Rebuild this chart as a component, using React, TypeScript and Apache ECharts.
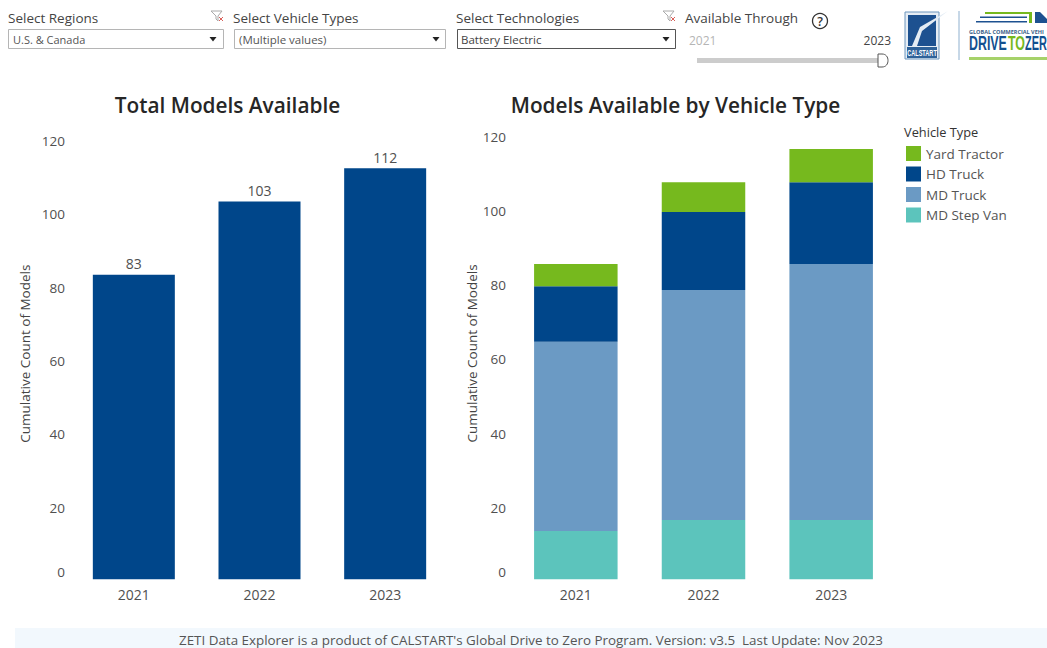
import React, { useEffect, useRef } from "react";
import * as echarts from "echarts";

const years = ["2021", "2022", "2023"];
const totalModels = [83, 103, 112];
const yardTractor = [6, 8, 9];
const hdTruck = [15, 21, 22];
const mdTruck = [51, 62, 69];
const mdStepVan = [13, 16, 16];
const legendOrder = ["Yard Tractor", "HD Truck", "MD Truck", "MD Step Van"];

const FONT = "'Open Sans', 'Noto Sans', sans-serif";
const NARROW = "'Liberation Sans', sans-serif";
const NAVY = "#00468a";
const GREEN = "#76b91e";
const BLUE = "#6b9ac4";
const TEAL = "#5cc4bc";
const AXIS_TEXT = "#505050";

echarts.graphic.registerShape(
  "sliderHandle",
  (echarts.graphic as any).extendPath("M0 0 L4 0 C8 0 10 3 10 6.5 C10 10 8 13 4 13 L0 13 Z", {})
);

const txt = (x: number, y: number, text: string, fontSize: number, fill: string, extra: any = {}) => ({
  type: "text",
  x,
  y,
  silent: true,
  ...extra.el,
  style: { text, fontSize, fill, fontFamily: FONT, verticalAlign: "middle", align: "left", ...extra.style },
});

const box = (x: number, y: number, w: number, h: number, stroke: string, fill = "#ffffff") => ({
  type: "rect",
  silent: true,
  shape: { x: x + 0.5, y: y + 0.5, width: w, height: h },
  style: { fill, stroke, lineWidth: 1 },
});

const arrow = (cx: number, cy: number) => ({
  type: "polygon",
  silent: true,
  shape: { points: [[cx - 3.5, cy - 2], [cx + 3.5, cy - 2], [cx, cy + 2.5]] },
  style: { fill: "#222222" },
});

const funnel = (x: number, y: number) => [
  {
    type: "polygon",
    silent: true,
    shape: { points: [[x, y], [x + 11, y], [x + 7, y + 5], [x + 7, y + 10], [x + 5, y + 8], [x + 5, y + 5]] },
    style: { fill: "#ffffff", stroke: "#aaaaaa", lineWidth: 1 },
  },
  { type: "line", silent: true, shape: { x1: x + 8, y1: y + 6, x2: x + 12, y2: y + 10 }, style: { stroke: "#d9605a", lineWidth: 1 } },
  { type: "line", silent: true, shape: { x1: x + 12, y1: y + 6, x2: x + 8, y2: y + 10 }, style: { stroke: "#d9605a", lineWidth: 1 } },
];

const graphics: any[] = [
  txt(8, 18, "Select Regions", 13.5, "#444444"),
  txt(233, 18, "Select Vehicle Types", 13.5, "#444444"),
  txt(456, 18, "Select Technologies", 13.5, "#444444"),
  txt(685, 18, "Available Through", 13.5, "#444444"),
  ...funnel(211, 11),
  ...funnel(663, 11),
  box(8, 29, 215, 19, "#b5b5b5"),
  box(234, 29, 211, 19, "#b5b5b5"),
  box(457, 29, 218, 19, "#555555"),
  txt(13, 39, "U.S. & Canada", 11, "#555555"),
  txt(239, 39, "(Multiple values)", 11.5, "#555555"),
  txt(461, 39, "Battery Electric", 11.5, "#444444"),
  arrow(213, 39),
  arrow(436, 39),
  arrow(666, 39),
  { type: "circle", silent: true, shape: { cx: 820, cy: 21, r: 7.5 }, style: { fill: "#fff", stroke: "#333", lineWidth: 1.3 } },
  txt(820, 21.5, "?", 12.5, "#333333", { style: { align: "center", fontWeight: 600 } }),
  txt(689, 40, "2021", 12, "#b5b5b5"),
  txt(891, 40, "2023", 12, "#444444", { style: { align: "right" } }),
  { type: "rect", silent: true, shape: { x: 697, y: 58, width: 183, height: 5 }, style: { fill: "#cccccc" } },
  { type: "sliderHandle", silent: true, x: 878, y: 54, style: { fill: "#ffffff", stroke: "#555555", lineWidth: 1 } },

  // CALSTART mark
  { type: "rect", silent: true, shape: { x: 905, y: 12, width: 34, height: 47 }, style: { fill: "#e6edf4", stroke: "#6d96bd", lineWidth: 1 } },
  { type: "rect", silent: true, shape: { x: 908, y: 15, width: 28, height: 31 }, style: { fill: "#1d5190" } },
  { type: "rect", silent: true, shape: { x: 907, y: 47, width: 30, height: 11 }, style: { fill: "#2f6299" } },
  { type: "polygon", silent: true, shape: { points: [[912, 46], [917, 46], [922, 31], [948, 11], [920, 27]] }, style: { fill: "#e4ecf4" } },
  txt(922, 53, "CALSTART", 9, "#ffffff", { el: { scaleX: 0.62 }, style: { align: "center", fontFamily: NARROW, fontWeight: 700 } }),
  { type: "line", silent: true, shape: { x1: 959, y1: 11, x2: 959, y2: 60 }, style: { stroke: "#8fb0cf", lineWidth: 1 } },

  // Drive to Zero mark
  { type: "polygon", silent: true, shape: { points: [[985, 12], [1032, 12], [1032, 23], [1029, 23], [1029, 14], [985, 14]] }, style: { fill: GREEN } },
  { type: "rect", silent: true, shape: { x: 980, y: 16.5, width: 47, height: 1.5 }, style: { fill: "#1d5190" } },
  { type: "rect", silent: true, shape: { x: 976, y: 21, width: 51, height: 1.5 }, style: { fill: "#1d5190" } },
  { type: "polygon", silent: true, shape: { points: [[1035, 12], [1040, 12], [1047, 19], [1047, 23], [1035, 23]] }, style: { fill: "#1d5190" } },
  txt(969, 32, "GLOBAL COMMERCIAL VEHI", 5.5, "#3b5f88", { style: { fontWeight: 700 } }),
  txt(969, 43, "DRIVE", 21, "#12508f", { el: { scaleX: 0.59 }, style: { fontWeight: 700, fontFamily: NARROW } }),
  txt(1008, 43, "TO", 21, GREEN, { el: { scaleX: 0.59 }, style: { fontWeight: 700, fontFamily: NARROW } }),
  txt(1025, 43, "ZER", 21, "#12508f", { el: { scaleX: 0.52 }, style: { fontWeight: 700, fontFamily: NARROW } }),
  { type: "rect", silent: true, shape: { x: 969, y: 57, width: 78, height: 3 }, style: { fill: "#a6d26a" } },

  txt(227.5, 105, "Total Models Available", 20.8, "#262626", { style: { align: "center", fontWeight: 600 } }),
  txt(675.5, 105, "Models Available by Vehicle Type", 20.8, "#262626", { style: { align: "center", fontWeight: 600 } }),
  txt(904, 132, "Vehicle Type", 12.8, "#333333"),

  { type: "rect", silent: true, shape: { x: 15, y: 628, width: 1032, height: 20 }, style: { fill: "#f2f8fd" } },
  txt(531, 640, "ZETI Data Explorer is a product of CALSTART's Global Drive to Zero Program. Version: v3.5  Last Update: Nov 2023", 13.4, "#555555", { style: { align: "center" } }),
];

const xAxisBase = {
  type: "category",
  data: years,
  axisLine: { show: false },
  axisTick: { show: false },
  axisLabel: { color: AXIS_TEXT, fontSize: 14, fontFamily: FONT, margin: 8 },
};

const yAxisBase = (nameGap: number, labelShift: number, nameShift: number) => ({
  type: "value",
  min: 0,
  max: 120,
  interval: 20,
  name: "Cumulative Count of Models",
  nameLocation: "middle",
  nameGap,
  nameTextStyle: { color: "#444444", fontSize: 13.5, fontFamily: FONT, padding: [0, 0, 0, nameShift] },
  axisLine: { show: false },
  axisTick: { show: false },
  splitLine: { show: false },
  axisLabel: {
    margin: 6,
    verticalAlignMinLabel: "bottom",
    formatter: "{v|{value}}",
    rich: {
      v: {
        color: AXIS_TEXT,
        fontSize: 13.5,
        fontFamily: FONT,
        padding: [labelShift, 0, 0, 0],
      },
    },
  },
});

const stacked = (name: string, data: number[], color: string) => ({
  name,
  type: "bar",
  stack: "types",
  xAxisIndex: 1,
  yAxisIndex: 1,
  barWidth: 83.5,
  data,
  itemStyle: { color },
});

export default function App() {
  const ref = useRef<HTMLDivElement>(null);
  useEffect(() => {
    const chart = echarts.init(ref.current!, null, { renderer: "svg" });
    chart.setOption({
      animation: false,
      backgroundColor: "#ffffff",
      grid: [
        { left: 71, width: 377, top: 139, height: 440.3 },
        { left: 512, width: 383, top: 134.1, height: 445.2 },
      ],
      xAxis: [
        { ...xAxisBase, gridIndex: 0 },
        { ...xAxisBase, gridIndex: 1 },
      ],
      yAxis: [
        { ...yAxisBase(39, 3.5, 11), gridIndex: 0 },
        { ...yAxisBase(32, 5.5, 6.5), gridIndex: 1 },
      ],
      legend: {
        data: legendOrder,
        orient: "vertical",
        left: 901,
        top: 141,
        itemWidth: 15,
        itemHeight: 15,
        itemGap: 5.5,
        icon: "rect",
        selectedMode: false,
        textStyle: { color: "#555555", fontSize: 13.5, fontFamily: FONT },
      },
      series: [
        {
          name: "Total Models",
          type: "bar",
          xAxisIndex: 0,
          yAxisIndex: 0,
          barWidth: 82,
          data: totalModels,
          itemStyle: { color: NAVY },
          label: { show: true, position: "top", distance: 4, color: AXIS_TEXT, fontSize: 14, fontFamily: FONT },
        },
        stacked("MD Step Van", mdStepVan, TEAL),
        stacked("MD Truck", mdTruck, BLUE),
        stacked("HD Truck", hdTruck, NAVY),
        stacked("Yard Tractor", yardTractor, GREEN),
      ],
      graphic: { elements: graphics },
    });
    return () => chart.dispose();
  }, []);
  return <div ref={ref} style={{ position: "absolute", left: 0, top: 0, width: 1047, height: 648, overflow: "hidden" }} />;
}
